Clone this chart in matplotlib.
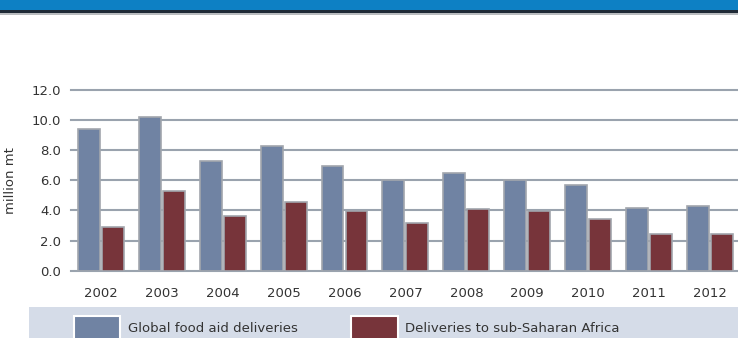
import matplotlib
matplotlib.use("Agg")
import matplotlib.pyplot as plt
from matplotlib.patches import Rectangle
import numpy as np

years = ["2002", "2003", "2004", "2005", "2006", "2007", "2008", "2009", "2010", "2011", "2012"]
global_aid = [9.41, 10.19, 7.30, 8.28, 6.97, 6.00, 6.49, 6.04, 5.69, 4.16, 4.30]
ssa_aid = [2.92, 5.29, 3.61, 4.56, 3.98, 3.19, 4.08, 3.96, 3.41, 2.46, 2.46]
yticks = [0, 2, 4, 6, 8, 10, 12]
series_labels = ["Global food aid deliveries", "Deliveries to sub-Saharan Africa"]
ylabel = "million mt"

blue = "#7083a3"
red = "#77343a"
edge = "#a2a6ad"
txt = "#333333"

W, H = 738, 338
fig = plt.figure(figsize=(W / 100, H / 100), dpi=100)
plt.rcParams['font.family'] = ['DejaVu Sans']

# header band
fig.patches.append(Rectangle((0, 1 - 10 / H), 1, 10 / H, transform=fig.transFigure,
                             facecolor="#0d80c4", edgecolor="none", zorder=0))
fig.patches.append(Rectangle((0, 1 - 13.5 / H), 1, 3.5 / H, transform=fig.transFigure,
                             facecolor="#1f2a36", edgecolor="none", zorder=0))
fig.patches.append(Rectangle((0, 1 - 14.5 / H), 1, 1 / H, transform=fig.transFigure,
                             facecolor="#b9bcbf", edgecolor="none", zorder=0))

left = 71 / W
bottom = 1 - 270.7 / H
top = 1 - 90 / H
ax = fig.add_axes([left, bottom, 1 - left, top - bottom])

x = np.arange(len(years))
w = 0.36
off = 0.197
ax.bar(x - off, global_aid, width=w, color=blue, edgecolor=edge, linewidth=1.2, zorder=3)
ax.bar(x + off, ssa_aid, width=w, color=red, edgecolor=edge, linewidth=1.2, zorder=3)

ax.set_xlim(-0.49, 10.46)
ax.set_ylim(0, 12)
ax.set_yticks(yticks)
ax.set_yticklabels([f"{v:.1f}" for v in yticks])
ax.set_xticks(x)
ax.set_xticklabels(years)
for s in ax.spines.values():
    s.set_visible(False)
ax.tick_params(axis="both", length=0, labelsize=9.5, colors=txt)
ax.tick_params(axis="x", pad=12)
ax.tick_params(axis="y", pad=7)
for v in yticks:
    ax.axhline(v, color="#9aa3ae", linewidth=1.5, zorder=1, clip_on=False)
ax.set_ylabel(ylabel, fontsize=9.5, color=txt, labelpad=10)
ax.yaxis.set_label_coords(-(71 - 17.5) / (W - 71), 0.5)

# legend band
band_top = 1 - 306.7 / H
fig.patches.append(Rectangle((29 / W, 0), 1 - 29 / W, band_top, transform=fig.transFigure,
                             facecolor="#d5dce8", edgecolor="none", zorder=0))
sw_top = 1 - 315.5 / H
for (x0, x1, col, tx, lab) in [(74, 120, blue, 127.7, series_labels[0]),
                               (351, 397.5, red, 405, series_labels[1])]:
    fig.patches.append(Rectangle((x0 / W, -0.05), (x1 - x0) / W, sw_top + 0.05,
                                 transform=fig.transFigure, facecolor=col,
                                 edgecolor="white", linewidth=1.5, zorder=1))
    fig.text(tx / W, 1 - 328 / H, lab, fontsize=9.5, color=txt, va="center", ha="left")

fig.savefig("out.png", dpi=100)
